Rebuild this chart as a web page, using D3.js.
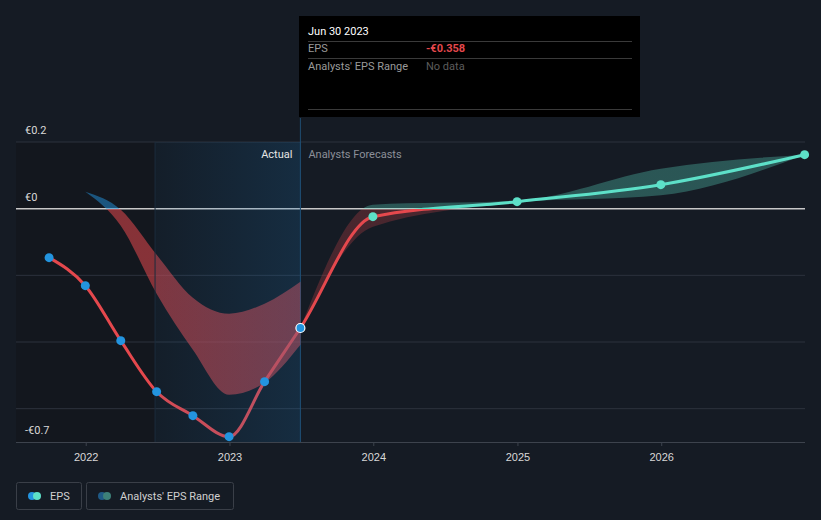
<!DOCTYPE html>
<html>
<head>
<meta charset="utf-8">
<script src="https://cdn.jsdelivr.net/npm/d3@7"></script>
<style>
  html, body { margin: 0; padding: 0; background: #151b24; }
  svg { display: block; font-family: Roboto, "Noto Sans", sans-serif; }
</style>
</head>
<body>
<svg id="chart" width="821" height="520"></svg>
<script>
// ---- Data ----
const actualDates = ["2021-09-30", "2021-12-31", "2022-03-31", "2022-06-30", "2022-09-30", "2022-12-31", "2023-03-31", "2023-06-30"];
const actualEPS = [-0.147, -0.231, -0.396, -0.549, -0.621, -0.684, -0.519, -0.358];

const forecastDates = ["2023-12-31", "2024-12-31", "2025-12-31", "2026-12-31"];
const forecastEPS = [-0.024, 0.021, 0.072, 0.162];

const pastRangeDates = ["2021-12-31", "2022-03-31", "2022-06-30", "2022-09-30", "2022-12-31", "2023-03-31", "2023-06-30"];
const pastRangeHigh = [0.051, -0.003, -0.138, -0.267, -0.315, -0.285, -0.219];
const pastRangeLow = [0.051, -0.051, -0.255, -0.423, -0.558, -0.522, -0.408];

const fcRangeDates = ["2023-06-30", "2023-12-31", "2024-12-31", "2025-12-31", "2026-12-31"];
const fcRangeHigh = [-0.358, 0.012, 0.024, 0.120, 0.162];
const fcRangeLow = [-0.358, -0.054, 0.018, 0.040, 0.162];

const yTickValues = [0.2, 0, -0.7];
const yTickLabels = ["€0.2", "€0", "-€0.7"];
const gridValues = [0.2, 0, -0.2, -0.4, -0.6];
const xTickYears = ["2022", "2023", "2024", "2025", "2026"];

const highlightStart = "2022-06-26";
const highlightEnd = "2023-06-30";

// ---- Setup ----
const parse = d3.timeParse("%Y-%m-%d");
const svg = d3.select("#chart");
const W = 821, H = 520;
const pL = 16, pR = 805, pT = 142, pB = 442;

const x = d3.scaleTime().domain([parse("2021-07-08"), parse("2027-01-01")]).range([pL, pR]);
const y = d3.scaleLinear().domain([-0.7, 0.2]).range([pB, pT]);

const RED = "#e5484d", TEAL = "#5de0c8", BLUE = "#2394df";

svg.append("rect").attr("width", W).attr("height", H).attr("fill", "#151b24");

// gradients
const defs = svg.append("defs");
const zeroOff = (y(0.0) - pT) / (pB - pT);
function vgrad(id, above, below, opA, opB) {
  const g = defs.append("linearGradient").attr("id", id)
    .attr("gradientUnits", "userSpaceOnUse")
    .attr("x1", 0).attr("x2", 0).attr("y1", pT).attr("y2", pB);
  g.append("stop").attr("offset", zeroOff).attr("stop-color", above).attr("stop-opacity", opA);
  g.append("stop").attr("offset", zeroOff).attr("stop-color", below).attr("stop-opacity", opB);
}
vgrad("lineGrad", TEAL, RED, 1, 1);
vgrad("pastBandGrad", BLUE, RED, 0.5, 0.55);
vgrad("fcBandGrad", TEAL, RED, 0.3, 0.25);

const hg = defs.append("linearGradient").attr("id", "hlGrad").attr("x1", 0).attr("x2", 1).attr("y1", 0).attr("y2", 0);
hg.append("stop").attr("offset", 0).attr("stop-color", "#1e6eaa").attr("stop-opacity", 0.08);
hg.append("stop").attr("offset", 1).attr("stop-color", "#1e6eaa").attr("stop-opacity", 0.25);

// background regions
const xs = x(parse(highlightStart)), xe = x(parse(highlightEnd));
svg.append("rect").attr("x", pL).attr("y", pT).attr("width", xe - pL).attr("height", pB - pT).attr("fill", "#13171e");

// gridlines
svg.append("g").selectAll("line").data(gridValues).join("line")
  .attr("x1", pL).attr("x2", pR)
  .attr("y1", d => y(d)).attr("y2", d => y(d))
  .attr("stroke", d => d === 0 ? "#c8c8c8" : "#2c323d")
  .attr("stroke-width", d => d === 0 ? 1.5 : 1);

// vertical marker line
svg.append("line").attr("x1", xe).attr("x2", xe).attr("y1", 118).attr("y2", pB)
  .attr("stroke", "#1f4d70").attr("stroke-width", 1);

// bands
const pastBand = pastRangeDates.map((d, i) => ({ d: parse(d), hi: pastRangeHigh[i], lo: pastRangeLow[i] }));
const fcBand = fcRangeDates.map((d, i) => ({ d: parse(d), hi: fcRangeHigh[i], lo: fcRangeLow[i] }));
const area = d3.area().curve(d3.curveMonotoneX).x(p => x(p.d)).y0(p => y(p.lo)).y1(p => y(p.hi));
svg.append("path").datum(pastBand).attr("d", area).attr("fill", "url(#pastBandGrad)");
svg.append("path").datum(fcBand).attr("d", area).attr("fill", "url(#fcBandGrad)");

// x axis
const xAxis = d3.axisBottom(x)
  .tickValues(xTickYears.map(yr => parse(yr + "-01-01")))
  .tickFormat(d3.timeFormat("%Y"))
  .tickSize(4).tickSizeOuter(0);
const gx = svg.append("g").attr("transform", `translate(0,${pB})`).call(xAxis);
gx.select(".domain").attr("stroke", "#3d434d").attr("d", `M${pL},0.5H${pR}`);
gx.selectAll(".tick line").attr("stroke", "#3d434d");
gx.selectAll(".tick text").attr("fill", "#d8d8d8").attr("font-size", 11).attr("dy", "1.05em");

// y labels
svg.append("g").selectAll("text").data(yTickValues).join("text")
  .attr("x", 25).attr("y", d => y(d) - 8)
  .attr("fill", "#d8d8d8").attr("font-size", 11)
  .text((d, i) => yTickLabels[i]);

// line
const actual = actualDates.map((d, i) => ({ d: parse(d), v: actualEPS[i] }));
const forecast = forecastDates.map((d, i) => ({ d: parse(d), v: forecastEPS[i] }));
const all = actual.concat(forecast);
const line = d3.line().curve(d3.curveMonotoneX).x(p => x(p.d)).y(p => y(p.v));
svg.append("path").datum(all).attr("d", line)
  .attr("fill", "none").attr("stroke", "url(#lineGrad)").attr("stroke-width", 3);

// highlight overlay
svg.append("rect").attr("x", xs).attr("y", pT).attr("width", xe - xs).attr("height", pB - pT).attr("fill", "url(#hlGrad)");
svg.append("line").attr("x1", xs).attr("x2", xs).attr("y1", pT).attr("y2", pB).attr("stroke", "#1b2c3d").attr("stroke-width", 1);

// Actual / Forecast labels
svg.append("text").attr("x", xe - 8).attr("y", 158).attr("text-anchor", "end")
  .attr("fill", "#e6e6e6").attr("font-size", 11).text("Actual");
svg.append("text").attr("x", xe + 8).attr("y", 158)
  .attr("fill", "#8c9099").attr("font-size", 11).text("Analysts Forecasts");

// points
svg.append("g").selectAll("circle").data(actual).join("circle")
  .attr("cx", p => x(p.d)).attr("cy", p => y(p.v)).attr("r", 4.5)
  .attr("fill", BLUE)
  .attr("stroke", (p, i) => i === actual.length - 1 ? "#ffffff" : "none")
  .attr("stroke-width", 1.2);
svg.append("g").selectAll("circle").data(forecast).join("circle")
  .attr("cx", p => x(p.d)).attr("cy", p => y(p.v)).attr("r", 4.5)
  .attr("fill", TEAL);

// tooltip
const tt = svg.append("g");
tt.append("rect").attr("x", 299).attr("y", 16).attr("width", 341).attr("height", 101).attr("fill", "#000000");
tt.append("text").attr("x", 308).attr("y", 35).attr("fill", "#ffffff").attr("font-size", 11).text("Jun 30 2023");
[41, 58, 109].forEach(yy => tt.append("line").attr("x1", 308).attr("x2", 632).attr("y1", yy + 0.5).attr("y2", yy + 0.5).attr("stroke", "#3a3a3a"));
tt.append("text").attr("x", 308).attr("y", 52).attr("fill", "#9a9a9a").attr("font-size", 11).text("EPS");
tt.append("text").attr("x", 426).attr("y", 52).attr("fill", RED).attr("font-size", 11).attr("font-weight", "bold").text("-€" + Math.abs(actualEPS[actualEPS.length - 1]).toFixed(3));
tt.append("text").attr("x", 308).attr("y", 70).attr("fill", "#9a9a9a").attr("font-size", 11).text("Analysts' EPS Range");
tt.append("text").attr("x", 426).attr("y", 70).attr("fill", "#5c5c5c").attr("font-size", 11).text("No data");

// legend
const lg = svg.append("g");
lg.append("rect").attr("x", 16.5).attr("y", 482.5).attr("width", 65).attr("height", 27).attr("rx", 2)
  .attr("fill", "none").attr("stroke", "#3a3f48");
lg.append("circle").attr("cx", 32).attr("cy", 496).attr("r", 4).attr("fill", BLUE);
lg.append("circle").attr("cx", 37).attr("cy", 496).attr("r", 4).attr("fill", TEAL);
lg.append("text").attr("x", 50).attr("y", 500).attr("fill", "#d0d0d0").attr("font-size", 11).text("EPS");
lg.append("rect").attr("x", 86.5).attr("y", 482.5).attr("width", 147).attr("height", 27).attr("rx", 2)
  .attr("fill", "none").attr("stroke", "#3a3f48");
lg.append("circle").attr("cx", 102).attr("cy", 496).attr("r", 4).attr("fill", "#1f5a86");
lg.append("circle").attr("cx", 107).attr("cy", 496).attr("r", 4).attr("fill", "#3d8079");
lg.append("text").attr("x", 120).attr("y", 500).attr("fill", "#d0d0d0").attr("font-size", 11).text("Analysts' EPS Range");
</script>
</body>
</html>
